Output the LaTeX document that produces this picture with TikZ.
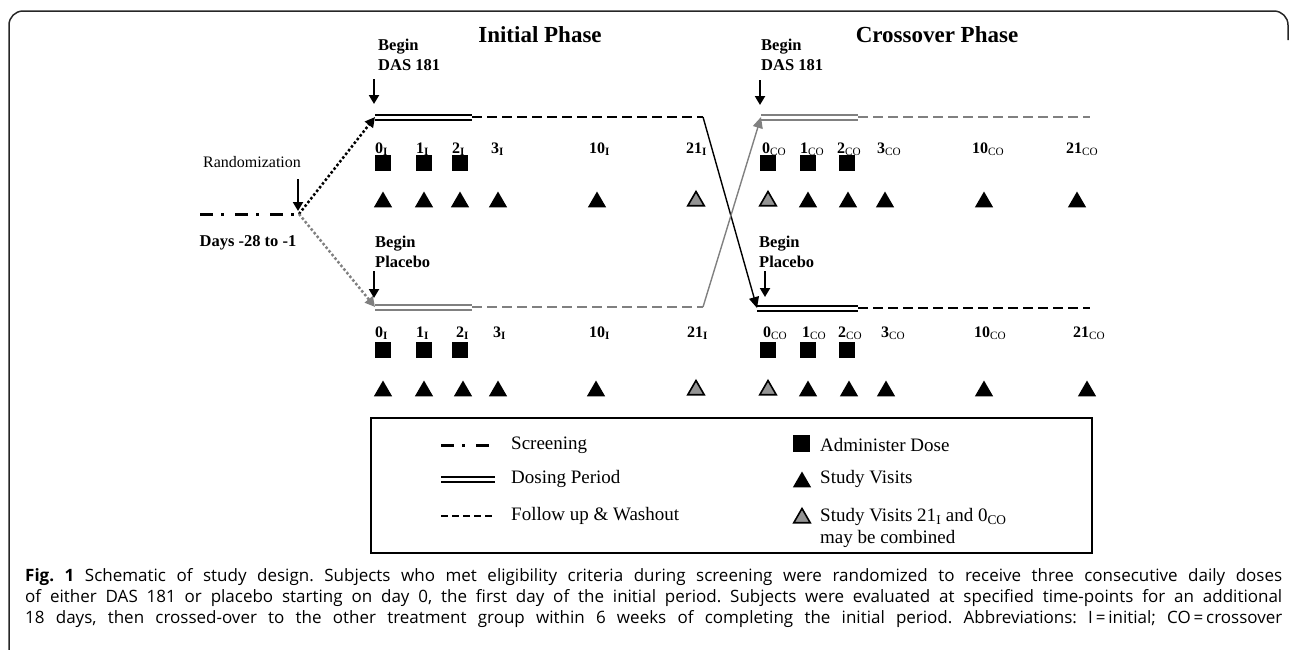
\documentclass[tikz,border=0pt]{standalone}
\usepackage{fontspec}
\setmainfont{Liberation Serif}
\newfontfamily\capfont{Open Sans}
\usetikzlibrary{positioning, shapes.geometric, arrows.meta}
\frenchspacing

\begin{document}
\begin{tikzpicture}[x=1pt, y=-1pt,
		dose/.style={rectangle, fill=black, minimum size=16pt, inner sep=0pt},
		visit/.style={regular polygon, regular polygon sides=3, fill=black, minimum size=21pt, inner sep=0pt},
		merged/.style={visit, fill=black!42, draw=black, line width=1.6pt, minimum size=19pt},
		dosing/.style={double, double distance=3pt, line width=2pt},
		washout/.style={line width=2.5pt, dash pattern=on 10pt off 5pt},
		screen/.style={line width=3pt, dash pattern=on 13pt off 8pt on 3pt off 11pt},
		randline/.style={line width=2.5pt, dash pattern=on 2.5pt off 2.2pt, -{Triangle[length=10pt, width=10pt]}},
		crossline/.style={line width=1.4pt, -{Triangle[length=11pt, width=10pt]}},
		beginarr/.style={line width=2pt, -{Triangle[length=9pt, width=10pt]}},
		beginlbl/.style={font=\fontsize{16.5}{20}\selectfont\bfseries, align=left, inner sep=0pt, anchor=north west},
		day/.style={font=\fontsize{16}{19}\selectfont\bfseries, inner sep=0pt, anchor=base west},
		phase/.style={font=\fontsize{23}{27}\selectfont\bfseries, inner sep=0pt},
		legtext/.style={font=\fontsize{19}{22}\selectfont, inner sep=0pt, anchor=west},
		capline/.style={font=\capfont\fontsize{17}{20}\selectfont, inner sep=0pt, anchor=base west}
	]
	\useasboundingbox (0,0) rectangle (1290,649);
	\draw[line width=1.5pt, rounded corners=14pt, black!85] (9,660) -- (9,11) -- (1288,11) -- (1288,40);

	\node[phase] (initial) at (540,35) {Initial Phase};
	\node[phase] (crossover) at (937,35) {Crossover Phase};

	% tracks
	\coordinate (scr) at (200,214);
	\coordinate (rand) at (299,214);
	\coordinate (tA) at (375,117);
	\coordinate (tA2) at (472,117);
	\coordinate (tA3) at (703,117);
	\coordinate (tB) at (761,117);
	\coordinate (tB2) at (858,117);
	\coordinate (tB3) at (1090,117);
	\coordinate (pA) at (375,307);
	\coordinate (pA2) at (472,307);
	\coordinate (pA3) at (703,307);
	\coordinate (pB) at (757,308);
	\coordinate (pB2) at (858,308);
	\coordinate (pB3) at (1090,308);

	\draw[screen] (scr) -- (rand);
	\draw[dosing] (tA) -- (tA2);
	\draw[washout] (tA2) -- (tA3);
	\draw[dosing, gray] (pA) -- (pA2);
	\draw[washout, gray] (pA2) -- (pA3);
	\draw[dosing, gray] (tB) -- (tB2);
	\draw[washout, gray] (tB2) -- (tB3);
	\draw[dosing] (pB) -- (pB2);
	\draw[washout] (pB2) -- (pB3);

	\draw[randline] (rand) -- (tA);
	\draw[randline, gray] (rand) -- (pA);
	\draw[crossline] (tA3) -- (pB);
	\draw[crossline, gray] (pA3) -- (tB);

	\node[font=\fontsize{16}{19}\selectfont, inner sep=0pt] (randlbl) at (252,162) {Randomization};
	\draw[beginarr] (298,179) -- (298,211);
	\node[font=\fontsize{16.5}{20}\selectfont\bfseries, inner sep=0pt] (days) at (248,243) {Days -28 to -1};

	\node[beginlbl] (bA) at (378,39) {Begin\\DAS 181};
	\node[beginlbl] (bB) at (375,236) {Begin\\Placebo};
	\node[beginlbl] (bC) at (761,39) {Begin\\DAS 181};
	\node[beginlbl] (bD) at (759,236) {Begin\\Placebo};
	\draw[beginarr] (374,79) -- (374,104);
	\draw[beginarr] (374,271) -- (374,298);
	\draw[beginarr] (760,80) -- (760,105);
	\draw[beginarr] (765,271) -- (765,297);

	% day labels
	\foreach \x/\d in {375/0, 416/1, 452/2, 491/3, 589/10, 686/21}
		\node[day] (tI\d) at (\x,153) {\d\textsubscript{I}};
	\foreach \x/\d in {762/0, 800/1, 837/2, 877/3, 972/10, 1066/21}
		\node[day] (tC\d) at (\x,153) {\d\textsubscript{\mdseries CO}};
	\foreach \x/\d in {375/0, 416/1, 456/2, 493/3, 589/10, 687/21}
		\node[day] (pI\d) at (\x,337) {\d\textsubscript{I}};
	\foreach \x/\d in {763/0, 802/1, 838/2, 881/3, 974/10, 1073/21}
		\node[day] (pC\d) at (\x,337) {\d\textsubscript{\mdseries CO}};

	% doses and visits
	\foreach \x [count=\i] in {383, 424, 460, 768, 808, 847} {
		\node[dose] (tD\i) at (\x,163) {};
		\node[dose] (pD\i) at (\x,350) {};
	}
	\foreach \x [count=\i] in {383, 424, 460, 498, 597, 808, 848, 885, 984, 1077}
		\node[visit] (tV\i) at (\x,202) {};
	\foreach \x [count=\i] in {383, 424, 463, 498, 596, 808, 849, 886, 984, 1087}
		\node[visit] (pV\i) at (\x,391) {};
	\node[merged] (tM1) at (696,201) {};
	\node[merged] (tM2) at (768,201) {};
	\node[merged] (pM1) at (696,390) {};
	\node[merged] (pM2) at (768,390) {};

	% legend
	\draw[line width=1.5pt] (371,418) rectangle (1092,553);
	\draw[screen] (441,445) -- (489,445);
	\draw[dosing] (441,479) -- (495,479);
	\draw[washout, dash pattern=on 7pt off 4pt] (441,516) -- (495,516);
	\node[legtext] (lgScr) at (511,445) {Screening};
	\node[legtext] (lgDos) at (511,479) {Dosing Period};
	\node[legtext] (lgWash) at (511,516) {Follow up \& Washout};
	\node[dose, minimum size=17pt] (lgD) at (801,443) {};
	\node[visit] (lgV) at (802,482) {};
	\node[merged] (lgM) at (802,518) {};
	\node[legtext] (lgAdm) at (820,445) {Administer Dose};
	\node[legtext] (lgVis) at (820,479) {Study Visits};
	\node[legtext, anchor=north west, align=left] (lgComb) at (820,508) {Study Visits 21\textsubscript{I} and 0\textsubscript{CO}\\may be combined};

	% caption
	\node[capline] (cap1) at (25,581) {\makebox[1257pt][s]{\textbf{Fig.~1} Schematic of study design. Subjects who met eligibility criteria during screening were randomized to receive three consecutive daily doses}};
	\node[capline] (cap2) at (25,602) {\makebox[1257pt][s]{of either DAS 181 or placebo starting on day 0, the first day of the initial period. Subjects were evaluated at specified time-points for an additional}};
	\node[capline] (cap3) at (25,623) {\makebox[1257pt][s]{18 days, then crossed-over to the other treatment group within 6 weeks of completing the initial period. Abbreviations: I\,=\,initial; CO\,=\,crossover}};
\end{tikzpicture}
\end{document}
